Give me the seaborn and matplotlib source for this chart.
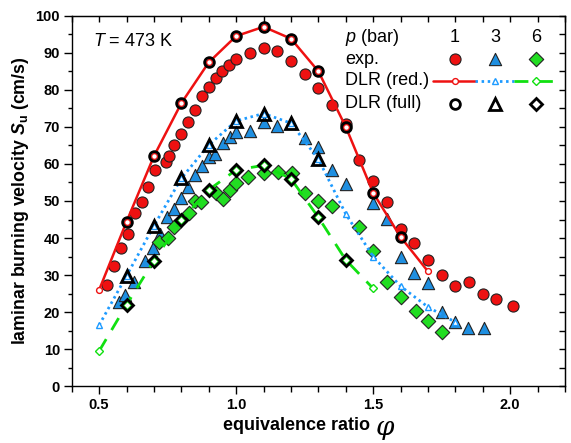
import numpy as np
import pandas as pd
import matplotlib
matplotlib.use("Agg")
import matplotlib.pyplot as plt
import seaborn as sns

# ---------------- data ----------------
phi1_exp = [0.53, 0.555, 0.58, 0.605, 0.63, 0.655, 0.68, 0.705, 0.745, 0.755, 0.775, 0.80, 0.825, 0.85,
            0.875, 0.90, 0.925, 0.95, 0.975, 1.0, 1.05, 1.10, 1.15, 1.20, 1.25, 1.30, 1.35, 1.40, 1.45,
            1.50, 1.55, 1.60, 1.65, 1.70, 1.75, 1.80, 1.85, 1.90, 1.95, 2.01]
su1_exp = [27.3, 32.5, 37.2, 41.0, 46.8, 49.6, 53.7, 58.4, 60.6, 62.2, 65.1, 68.1, 71.2, 74.6,
           78.3, 80.7, 83.1, 85.2, 86.7, 88.2, 90.0, 91.4, 90.6, 87.9, 84.3, 80.6, 76.0, 70.9, 61.0,
           55.3, 49.8, 42.5, 38.7, 34.1, 30.0, 27.1, 28.1, 24.9, 23.6, 21.7]

phi3_exp = [0.571, 0.595, 0.626, 0.668, 0.696, 0.723, 0.748, 0.775, 0.80, 0.824, 0.851, 0.876, 0.90,
            0.924, 0.952, 0.977, 1.0, 1.05, 1.10, 1.15, 1.25, 1.30, 1.35, 1.40, 1.50, 1.55, 1.60,
            1.65, 1.70, 1.75, 1.80, 1.845, 1.905]
su3_exp = [22.8, 24.6, 28.2, 33.9, 37.3, 41.2, 45.7, 47.8, 50.7, 53.8, 57.0, 59.4, 62.0,
           62.7, 65.7, 67.3, 68.7, 68.9, 71.4, 70.1, 66.9, 64.6, 58.4, 54.5, 49.4, 45.1, 35.0,
           30.5, 28.0, 20.0, 17.4, 15.8, 15.8]

phi6_exp = [0.72, 0.75, 0.772, 0.827, 0.849, 0.873, 0.928, 0.952, 0.977, 1.0, 1.044, 1.10, 1.153,
            1.205, 1.25, 1.30, 1.35, 1.45, 1.50, 1.55, 1.60, 1.655, 1.70, 1.75]
su6_exp = [38.8, 39.9, 43.1, 46.7, 50.1, 49.8, 52.1, 50.5, 53.0, 54.9, 56.6, 57.6, 57.9,
           57.5, 52.1, 50.0, 48.7, 42.9, 36.4, 28.1, 24.2, 20.2, 17.5, 14.7]

# DLR reduced mechanism
phi1_red = [0.5, 0.6, 0.7, 0.8, 0.9, 1.0, 1.1, 1.2, 1.3, 1.4, 1.5, 1.6, 1.7]
su1_red = [26.0, 44.4, 62.1, 76.4, 87.4, 94.5, 97.0, 93.8, 85.0, 70.0, 52.2, 40.3, 31.0]
phi3_red = [0.5, 0.6, 0.7, 0.8, 0.9, 1.0, 1.1, 1.2, 1.3, 1.4, 1.5, 1.6, 1.7, 1.8]
su3_red = [16.5, 29.8, 43.3, 56.1, 65.1, 71.6, 73.6, 71.0, 61.3, 46.5, 35.0, 27.0, 21.4, 17.3]
phi6_red = [0.5, 0.6, 0.7, 0.8, 0.9, 1.0, 1.1, 1.2, 1.3, 1.4, 1.5]
su6_red = [9.5, 22.0, 33.9, 44.9, 53.0, 58.4, 59.6, 56.0, 45.6, 34.1, 26.4]

# DLR full mechanism
phi1_full = [0.6, 0.7, 0.8, 0.9, 1.0, 1.1, 1.2, 1.3, 1.4, 1.5, 1.6]
su1_full = [44.4, 62.1, 76.4, 87.4, 94.5, 97.0, 93.8, 85.0, 70.0, 52.2, 40.3]
phi3_full = [0.6, 0.7, 0.8, 0.9, 1.0, 1.1, 1.2, 1.3]
su3_full = [29.8, 43.3, 56.1, 65.1, 71.6, 73.6, 71.0, 61.3]
phi6_full = [0.6, 0.7, 0.8, 0.9, 1.0, 1.1, 1.2, 1.3, 1.4]
su6_full = [22.0, 33.9, 44.9, 53.0, 58.4, 59.6, 56.0, 45.6, 34.1]

pressures = ["1", "3", "6"]
x_ticks = [0.5, 1.0, 1.5, 2.0]
y_ticks = [0, 10, 20, 30, 40, 50, 60, 70, 80, 90, 100]

# ---------------- style ----------------
sns.set_style("ticks")
plt.rcParams["font.family"] = ["Liberation Sans", "DejaVu Sans"]
plt.rcParams["mathtext.fontset"] = "custom"
plt.rcParams["mathtext.rm"] = "Liberation Sans"
plt.rcParams["mathtext.it"] = "Liberation Sans:italic"
plt.rcParams["mathtext.bf"] = "Liberation Sans:bold"
plt.rcParams["mathtext.bfit"] = "Liberation Sans:bold:italic"
plt.rcParams["text.color"] = "black"
plt.rcParams["axes.labelcolor"] = "black"
plt.rcParams["xtick.color"] = "black"
plt.rcParams["ytick.color"] = "black"

RED = "#ee1111"
BLUE = "#1f8fe0"
GREEN = "#22dd22"
BLUE_L = "#1e9bff"
GREEN_L = "#11e011"
colors = [RED, BLUE, GREEN]
line_colors = [RED, BLUE_L, GREEN_L]
markers = ["o", "^", "D"]
exp_sizes = [64, 78, 54]
full_sizes = [7.0, 8.0, 6.6]
styles = ["-", (0, (0.9, 1.3)), (0, (5, 3.8))]

fig = plt.figure(figsize=(5.71, 4.43), dpi=100)
ax = fig.add_axes([0.1256, 0.128, 0.8639, 0.8366])

exp_sets = [(phi1_exp, su1_exp), (phi3_exp, su3_exp), (phi6_exp, su6_exp)]
red_sets = [(phi1_red, su1_red), (phi3_red, su3_red), (phi6_red, su6_red)]
full_sets = [(phi1_full, su1_full), (phi3_full, su3_full), (phi6_full, su6_full)]

for i, (px, py) in enumerate(exp_sets):
    df = pd.DataFrame({"phi": px, "su": py})
    sns.scatterplot(data=df, x="phi", y="su", ax=ax, marker=markers[i], s=exp_sizes[i],
                    color=colors[i], edgecolor="#222222", linewidth=0.8, zorder=3, legend=False)

for i, (px, py) in enumerate(red_sets):
    df = pd.DataFrame({"phi": px, "su": py})
    sns.lineplot(data=df, x="phi", y="su", ax=ax, color=line_colors[i], linewidth=2.0 if i else 1.8,
                 linestyle=styles[i], marker=markers[i], markersize=4.2 if i != 2 else 3.6,
                 markerfacecolor="white", markeredgecolor=line_colors[i], markeredgewidth=1.0,
                 zorder=4, legend=False, sort=False, estimator=None)

for i, (px, py) in enumerate(full_sets):
    df = pd.DataFrame({"phi": px, "su": py})
    ax.plot(df["phi"], df["su"], linestyle="none", marker=markers[i], markersize=full_sizes[i],
            markerfacecolor="none", markeredgecolor="black", markeredgewidth=2.0, zorder=5)

# ---------------- axes ----------------
ax.set_xlim(0.4, 2.2)
ax.set_ylim(0, 100)
ax.set_xticks(x_ticks)
ax.set_xticklabels([f"{v:.1f}" for v in x_ticks])
ax.set_xticks(np.arange(0.4, 2.21, 0.1), minor=True)
ax.set_yticks(y_ticks)
ax.set_yticks(np.arange(0, 101, 5), minor=True)
ax.tick_params(axis="both", which="major", direction="out", length=5.5, width=1.0,
               labelsize=10.5, pad=3, colors="black")
ax.tick_params(axis="x", which="minor", direction="out", length=4, width=1.0)
ax.tick_params(axis="y", which="minor", direction="out", length=3, width=1.0)
for lab in ax.get_xticklabels() + ax.get_yticklabels():
    lab.set_fontweight("bold")
for sp in ax.spines.values():
    sp.set_visible(True)
    sp.set_linewidth(1.0)
    sp.set_color("black")

secx = ax.secondary_xaxis("top")
secx.set_xticks(np.arange(0.4, 2.21, 0.1))
secx.tick_params(direction="in", length=4, width=1.0, labeltop=False)
secy = ax.secondary_yaxis("right")
secy.set_yticks(np.arange(0, 101, 5))
secy.tick_params(direction="in", length=4, width=1.0, labelright=False)

ax.set_xlabel("")
ax.set_ylabel(r"laminar burning velocity $\mathbfit{S}_{\mathbf{u}}$ (cm/s)", fontsize=12.8,
              fontweight="bold", labelpad=3)

# x label with large italic phi
ax.text(0.605, -0.105, "equivalence ratio", transform=ax.transAxes, ha="right", va="center",
        fontsize=13, fontweight="bold")
ax.text(0.617, -0.112, "\u03c6", transform=ax.transAxes, ha="left", va="center",
        fontsize=19, fontstyle="italic", family=["DejaVu Serif"])

# temperature annotation
ax.text(0.043, 0.930, r"$T$ = 473 K", transform=ax.transAxes, ha="left", va="center", fontsize=13)

# ---------------- custom legend table ----------------
tx = 0.554
rows_y = [0.940, 0.882, 0.824, 0.762]
cols_x = [0.776, 0.858, 0.941]
ax.text(tx, rows_y[0], r"$p$ (bar)", transform=ax.transAxes, ha="left", va="center", fontsize=13)
ax.text(tx, rows_y[1], "exp.", transform=ax.transAxes, ha="left", va="center", fontsize=13)
ax.text(tx, rows_y[2], "DLR (red.)", transform=ax.transAxes, ha="left", va="center", fontsize=13)
ax.text(tx, rows_y[3], "DLR (full)", transform=ax.transAxes, ha="left", va="center", fontsize=13)
seg_edges = [0.732, 0.818, 0.897, 0.976]
for i, lbl in enumerate(pressures):
    ax.text(cols_x[i], rows_y[0], lbl, transform=ax.transAxes, ha="center", va="center", fontsize=13)
    ax.scatter([cols_x[i]], [rows_y[1]], transform=ax.transAxes, marker=markers[i], s=exp_sizes[i],
               color=colors[i], edgecolor="#222222", linewidth=0.8, zorder=6, clip_on=False)
    ax.plot([seg_edges[i], seg_edges[i + 1]], [rows_y[2], rows_y[2]], transform=ax.transAxes,
            color=line_colors[i], linewidth=2.0 if i else 1.8, linestyle=styles[i], zorder=6,
            clip_on=False)
    ax.plot([cols_x[i]], [rows_y[2]], transform=ax.transAxes, marker=markers[i],
            markersize=4.2 if i != 2 else 3.6, markerfacecolor="white",
            markeredgecolor=line_colors[i], markeredgewidth=1.0, linestyle="none", zorder=7,
            clip_on=False)
    ax.plot([cols_x[i]], [rows_y[3]], transform=ax.transAxes, marker=markers[i],
            markersize=full_sizes[i], markerfacecolor="none", markeredgecolor="black",
            markeredgewidth=2.0, linestyle="none", zorder=7, clip_on=False)

fig.savefig("out.png", dpi=100)
